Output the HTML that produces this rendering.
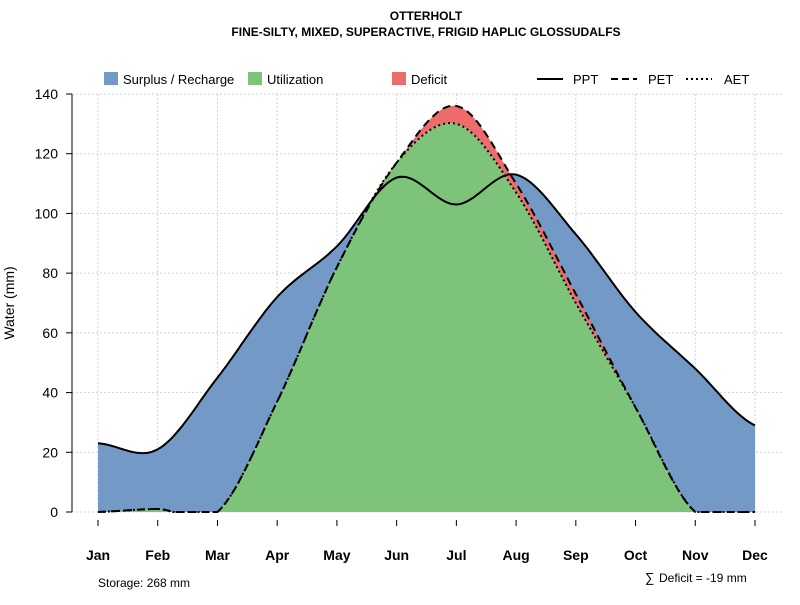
<!DOCTYPE html>
<html><head><meta charset="utf-8">
<style>
body{margin:0;background:#fff;}
svg text{font-family:"Liberation Sans",sans-serif;}
</style></head>
<body>
<svg id="s" width="800" height="600" xmlns="http://www.w3.org/2000/svg">
<rect width="800" height="600" fill="#fff"/>
<text x="426" y="20" font-size="12" font-weight="bold" text-anchor="middle">OTTERHOLT</text>
<text x="426" y="36" font-size="12" font-weight="bold" text-anchor="middle">FINE-SILTY, MIXED, SUPERACTIVE, FRIGID HAPLIC GLOSSUDALFS</text>
<g id="grid" stroke="#d3d3d3" stroke-dasharray="2,2" stroke-width="1"></g>
<g id="areas"></g>
<g id="lines" fill="none" stroke="#000" stroke-width="2"></g>
<g id="axes" stroke="#000" stroke-width="1" font-size="14"></g>
<text transform="translate(14,303) rotate(-90)" font-size="14" text-anchor="middle">Water (mm)</text>
<!-- legend -->
<rect x="104" y="72" width="14" height="13" fill="#7399c6"/>
<text x="123" y="84" font-size="13">Surplus / Recharge</text>
<rect x="248" y="72" width="14" height="13" fill="#7dc47a"/>
<text x="267" y="84" font-size="13">Utilization</text>
<rect x="392" y="72" width="14" height="13" fill="#ee6b6b"/>
<text x="411" y="84" font-size="13">Deficit</text>
<line x1="537" y1="79" x2="563" y2="79" stroke="#000" stroke-width="2"/>
<text x="573" y="84" font-size="13">PPT</text>
<line x1="611" y1="79" x2="637" y2="79" stroke="#000" stroke-width="2" stroke-dasharray="7,4"/>
<text x="648" y="84" font-size="13">PET</text>
<line x1="686" y1="79" x2="712" y2="79" stroke="#000" stroke-width="2" stroke-dasharray="2,3"/>
<text x="724" y="84" font-size="13">AET</text>
<text x="98" y="587" font-size="12">Storage: 268 mm</text>
<text x="645" y="582" font-size="13">∑</text>
<text x="659" y="582" font-size="12">Deficit = -19 mm</text>
</svg>
<script>
const NS="http://www.w3.org/2000/svg";
const X=m=>98+m*(755-98)/11, Y=v=>512-v*418/140;
const ppt=[23,21,45,72,89,112,103,113,93,67,48,29];
const pet=[0,1,0,37,82,117,136,110,73,35,0,0];
const aet=[0,1,0,37,82,117,130,107,70,35,0,0];
function spline(a){const r=[];const n=a.length;for(let i=0;i<n-1;i++){const p0=a[Math.max(i-1,0)],p1=a[i],p2=a[i+1],p3=a[Math.min(i+2,n-1)];for(let k=0;k<20;k++){const t=k/20,t2=t*t,t3=t2*t;r.push([i+t,Math.max(0,0.5*(2*p1+(-p0+p2)*t+(2*p0-5*p1+4*p2-p3)*t2+(-p0+3*p1-3*p2+p3)*t3))]);}}r.push([n-1,a[n-1]]);return r;}
const P=spline(ppt),E=spline(pet),A=spline(aet);
const pts=s=>s.map(p=>X(p[0]).toFixed(1)+","+Y(p[1]).toFixed(1)).join(" ");
function el(t,at,par){const e=document.createElementNS(NS,t);for(const k in at)e.setAttribute(k,at[k]);document.getElementById(par).appendChild(e);return e;}
for(let m=0;m<12;m++)el("line",{x1:X(m),y1:94,x2:X(m),y2:512},"grid");
for(let v=0;v<=140;v+=20)el("line",{x1:72,y1:Y(v),x2:782,y2:Y(v)},"grid");
const base=X(0)+","+Y(0)+" ", end=" "+X(11)+","+Y(0);
el("polygon",{points:base+pts(P)+end,fill:"#7399c6"},"areas");
el("polygon",{points:base+pts(A)+end,fill:"#7dc47a"},"areas");
el("polygon",{points:pts(E)+" "+pts(A.slice().reverse()),fill:"#ee6b6b"},"areas");
el("polyline",{points:pts(P)},"lines");
el("polyline",{points:pts(E),"stroke-dasharray":"8,5"},"lines");
el("polyline",{points:pts(A),"stroke-dasharray":"2,3"},"lines");
el("line",{x1:72,y1:94,x2:72,y2:512},"axes");
for(let v=0;v<=140;v+=20){el("line",{x1:66,y1:Y(v),x2:72,y2:Y(v)},"axes");const t=el("text",{x:58,y:Y(v)+5,"text-anchor":"end",stroke:"none"},"axes");t.textContent=v;}
const mn=["Jan","Feb","Mar","Apr","May","Jun","Jul","Aug","Sep","Oct","Nov","Dec"];
for(let m=0;m<12;m++){el("line",{x1:X(m),y1:520,x2:X(m),y2:526},"axes");const t=el("text",{x:X(m),y:560,"text-anchor":"middle","font-weight":"bold",stroke:"none"},"axes");t.textContent=mn[m];}
</script>
</body></html>
